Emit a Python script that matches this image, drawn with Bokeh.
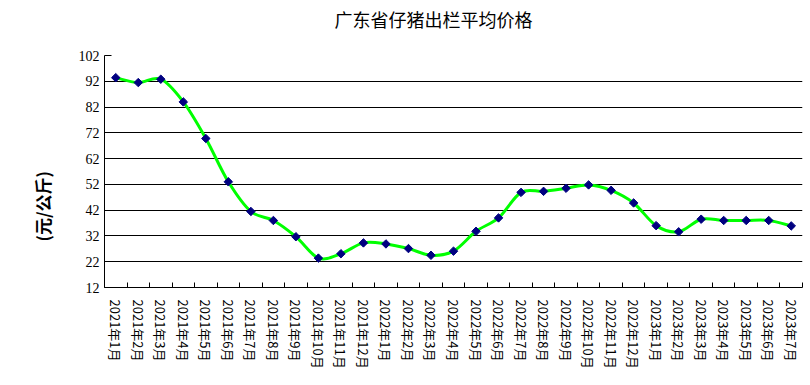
from bokeh.plotting import figure
from bokeh.models import Range1d, FixedTicker, Title
from bokeh.layouts import column
from bokeh.core.properties import value
from bokeh.embed import file_html
from bokeh.resources import INLINE
from math import pi

title_text = "广东省仔猪出栏平均价格"
y_label_text = "(元/公斤)"
months = ["2021年1月", "2021年2月", "2021年3月", "2021年4月", "2021年5月", "2021年6月",
          "2021年7月", "2021年8月", "2021年9月", "2021年10月", "2021年11月", "2021年12月",
          "2022年1月", "2022年2月", "2022年3月", "2022年4月", "2022年5月", "2022年6月",
          "2022年7月", "2022年8月", "2022年9月", "2022年10月", "2022年11月", "2022年12月",
          "2023年1月", "2023年2月", "2023年3月", "2023年4月", "2023年5月", "2023年6月",
          "2023年7月"]
prices = [93.4, 91.5, 92.8, 84.0, 69.8, 53.0, 41.5, 38.0, 31.7, 23.4, 25.1, 29.3,
          28.9, 27.1, 24.5, 26.1, 33.8, 39.0, 48.9, 49.3, 50.5, 51.8, 49.7, 44.8,
          36.0, 33.6, 38.5, 38.0, 38.0, 38.0, 35.9]
y_ticks = [12, 22, 32, 42, 52, 62, 72, 82, 92, 102]
grid_ticks = [22, 32, 42, 52, 62, 72, 82, 92]

n = len(prices)
xs = list(range(n))

# header with the chart title (its frame lines up with the main plot frame)
head = figure(width=808, height=47, output_backend="svg", toolbar_location=None,
              x_range=Range1d(0, 698), y_range=Range1d(0, 47),
              x_axis_type=None, y_axis_type=None, min_border=0,
              min_border_left=104, min_border_right=6)
head.outline_line_color = None
head.grid.visible = False
head.text(x=[329], y=[29], text=[title_text], text_align="center",
          text_baseline="middle", text_font=value("Noto Sans CJK SC"),
          text_font_size="18px", text_color="black")

p = figure(width=808, height=331, output_backend="svg", toolbar_location=None,
           x_range=Range1d(-0.5, n - 0.5), y_range=Range1d(12, 102),
           min_border_left=104, min_border_right=6, min_border_top=8, min_border_bottom=91)
p.outline_line_color = None
p.background_fill_color = "white"
p.border_fill_color = "white"

p.add_layout(Title(text=y_label_text, align="left", offset=46, standoff=41,
                   text_font="Noto Sans CJK SC", text_font_size="17px",
                   text_font_style="bold", text_color="black"), "left")

# smooth line via bezier segments (control points from neighbouring data values)
x0, y0, x1, y1, cx0, cy0, cx1, cy1 = [], [], [], [], [], [], [], []
for i in range(n - 1):
    a = max(i - 1, 0)
    d = min(i + 2, n - 1)
    x0.append(xs[i]); y0.append(prices[i])
    x1.append(xs[i + 1]); y1.append(prices[i + 1])
    cx0.append(xs[i] + (xs[i + 1] - xs[a]) / 6.0)
    cy0.append(prices[i] + (prices[i + 1] - prices[a]) / 6.0)
    cx1.append(xs[i + 1] - (xs[d] - xs[i]) / 6.0)
    cy1.append(prices[i + 1] - (prices[d] - prices[i]) / 6.0)
p.bezier(x0=x0, y0=y0, x1=x1, y1=y1, cx0=cx0, cy0=cy0, cx1=cx1, cy1=cy1,
         line_color="#00FF00", line_width=3)
p.scatter(xs, prices, marker="square", angle=pi / 4, size=6,
          fill_color="#000080", line_color="#000080")

# grid
p.xgrid.visible = False
p.ygrid.ticker = FixedTicker(ticks=grid_ticks)
p.ygrid.grid_line_color = "black"
p.ygrid.grid_line_width = 1

# x axis
xa = p.xaxis[0]
xa.ticker = FixedTicker(ticks=xs, minor_ticks=[i - 0.5 for i in range(n + 1)])
xa.major_label_overrides = {i: m for i, m in enumerate(months)}
xa.major_label_orientation = "vertical"
xa.major_tick_line_color = None
xa.minor_tick_line_color = "black"
xa.minor_tick_in = 5
xa.minor_tick_out = 0
xa.axis_line_color = "black"
xa.major_label_text_font = "Noto Sans CJK SC"
xa.major_label_text_font_size = "13px"
xa.major_label_text_color = "black"
xa.major_label_standoff = 6

# y axis
ya = p.yaxis[0]
ya.ticker = FixedTicker(ticks=y_ticks)
ya.major_tick_in = 7
ya.major_tick_out = 0
ya.minor_tick_line_color = None
ya.axis_line_color = "black"
ya.major_label_text_font = "Liberation Serif"
ya.major_label_text_font_size = "14px"
ya.major_label_text_color = "black"
ya.major_label_standoff = 5

layout = column(head, p, spacing=0)
open("out.html", "w").write(file_html(layout, INLINE))
